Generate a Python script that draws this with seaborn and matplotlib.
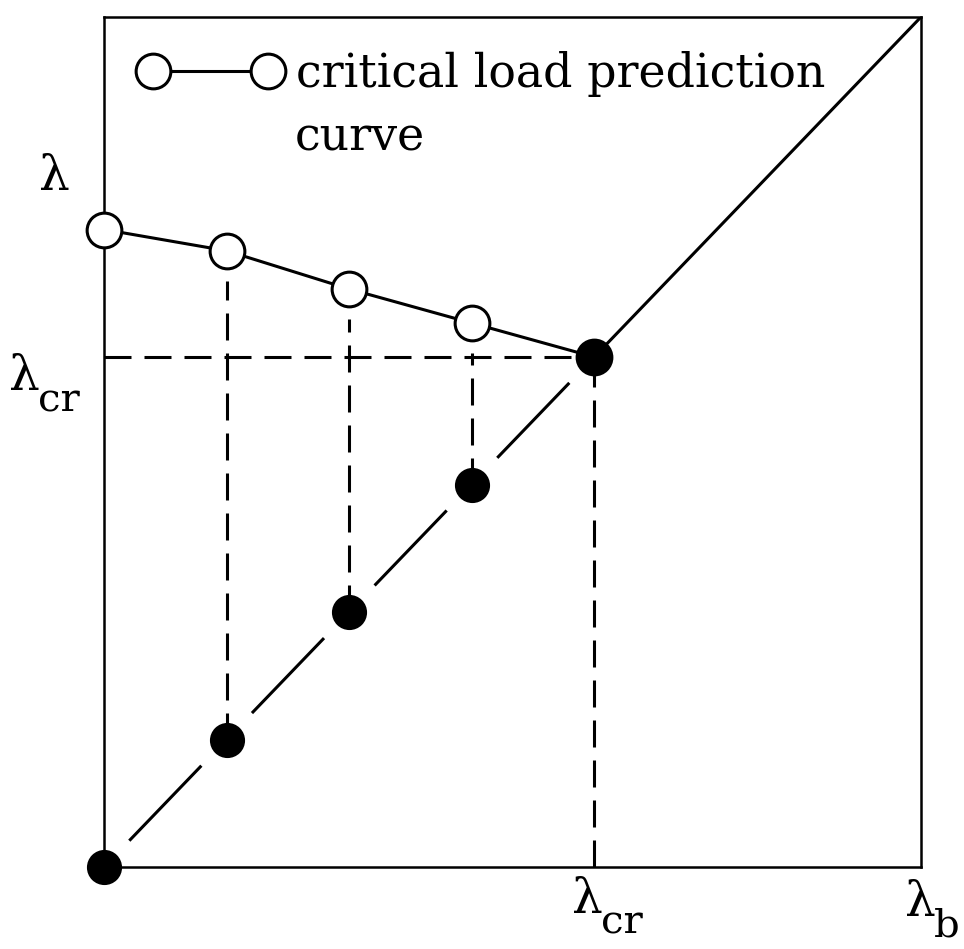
import matplotlib
matplotlib.use("Agg")
import matplotlib.pyplot as plt
import seaborn as sns

# load steps (fraction of lambda_b) and predicted critical loads at each step
load_steps = [0.0, 0.15, 0.30, 0.45, 0.60]
predicted_cr = [0.75, 0.725, 0.68, 0.64, 0.60]
lambda_cr = 0.60
lambda_b = 1.0

sns.set_style("white")
plt.rcParams["font.family"] = ["DejaVu Serif", "DejaVu Sans"]
plt.rcParams["text.color"] = "black"
plt.rcParams["lines.scale_dashes"] = False

px = 0.72  # points per pixel at dpi=100

fig = plt.figure(figsize=(9.64, 9.49), dpi=100)
ax = fig.add_axes([104 / 964, 1 - 867 / 949, 817 / 964, 850 / 949])

# diagonal: dashed up to lambda_cr, solid beyond
on, off = 104 * px, 73 * px
ax.plot([0, lambda_cr], [0, lambda_cr], color="black", lw=2.2,
        linestyle=(on + off / 2, (on, off)), zorder=2)
ax.plot([lambda_cr, lambda_b], [lambda_cr, lambda_b], color="black", lw=2.2, zorder=2)

# projections from prediction curve down to the load path
short = (0, (27 * px, 13 * px))
gap = 0.035
ax.vlines(load_steps[1:4], load_steps[1:4], [p - gap for p in predicted_cr[1:4]],
          colors="black", lw=2.2, linestyles=[short])
ax.vlines([lambda_cr], [0], [lambda_cr], colors="black", lw=2.2, linestyles=[short])
ax.hlines([lambda_cr], [0], [lambda_cr], colors="black", lw=2.2, linestyles=[short])

# critical load prediction curve
sns.lineplot(x=load_steps, y=predicted_cr, sort=False, ax=ax, color="black", lw=2.2,
             marker="o", markersize=25, markerfacecolor="white", markeredgecolor="black",
             markeredgewidth=2.2, label="critical load prediction", clip_on=False, zorder=3)

# load path points
sns.scatterplot(x=load_steps, y=load_steps, ax=ax, color="black", s=640,
                edgecolor="black", linewidth=0, clip_on=False, zorder=4, legend=False)

ax.set_xlim(0, lambda_b)
ax.set_ylim(0, lambda_b)
ax.set_xticks([])
ax.set_yticks([])
for s in ax.spines.values():
    s.set_visible(True)
    s.set_color("black")
    s.set_linewidth(1.8)

ax.legend(loc="upper left", bbox_to_anchor=(0.043, 0.960), frameon=False,
          numpoints=2, handlelength=3.12, handletextpad=0.3, borderpad=0,
          borderaxespad=0, fontsize=33)
ax.text(0.234, 0.8435, "curve", fontsize=33, ha="left", va="baseline",
        transform=ax.transAxes)


def lam(x, y, sub=None, dx=29, dy=21):
    ax.text(x, y, "λ", fontsize=35, ha="left", va="baseline", clip_on=False)
    if sub:
        ax.annotate(sub, (x, y), xytext=(dx * px, -dy * px), textcoords="offset points",
                    fontsize=29, ha="left", va="baseline", annotation_clip=False)


lam(-0.079, 0.797)
lam(-0.116, 0.561, "cr")
lam(lambda_cr - 0.027, -0.054, "cr")
lam(lambda_b - 0.02, -0.058, "b", dx=29, dy=20)

fig.savefig("out.png", dpi=100)
